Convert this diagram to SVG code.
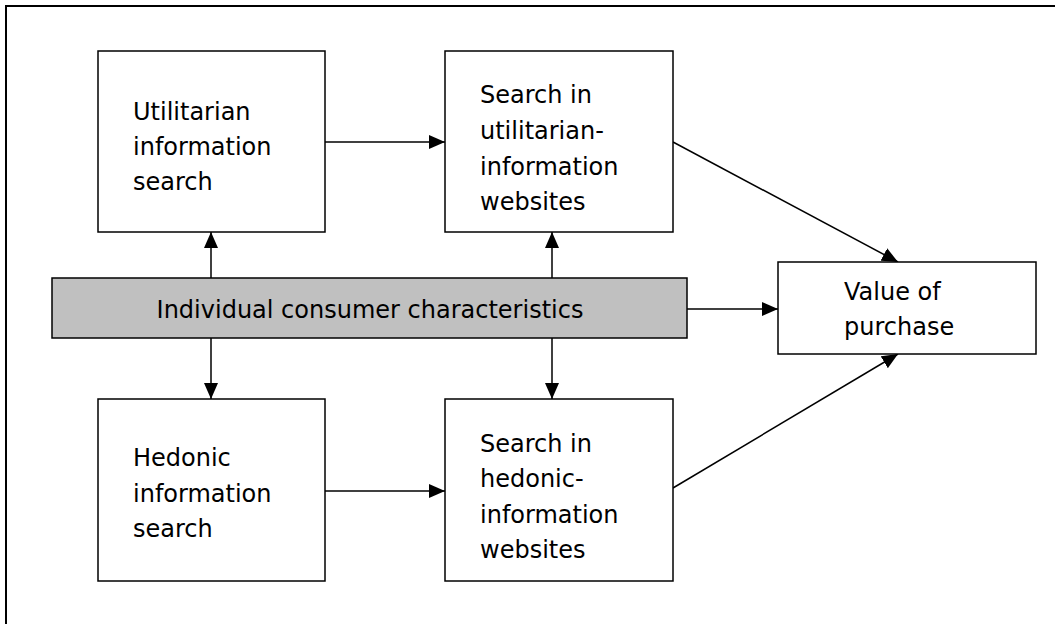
<svg xmlns="http://www.w3.org/2000/svg" width="1055" height="624" viewBox="0 0 1055 624">
<style>
.box{fill:#fff;stroke:#000;stroke-width:1.5}
.grey{fill:#c0c0c0;stroke:#000;stroke-width:1.5}
.t{font-family:"DejaVu Sans",sans-serif;font-size:24px;fill:#000}
</style>
<defs>
<marker id="ahb" viewBox="0 0 16 14" refX="16" refY="7" markerWidth="16" markerHeight="14" markerUnits="userSpaceOnUse" orient="auto">
<path d="M0,0 L16,7 L0,14 z" fill="#000"/>
</marker>
</defs>
<rect x="6" y="6" width="1070" height="640" fill="#fff" stroke="#000" stroke-width="2"/>
<g id="connectors" stroke="#000" stroke-width="1.5" fill="none">
<line x1="325" y1="142" x2="445" y2="142" marker-end="url(#ahb)"/>
<line x1="325" y1="491" x2="445" y2="491" marker-end="url(#ahb)"/>
<line x1="211" y1="278" x2="211" y2="232" marker-end="url(#ahb)"/>
<line x1="552" y1="278" x2="552" y2="232" marker-end="url(#ahb)"/>
<line x1="211" y1="338" x2="211" y2="399" marker-end="url(#ahb)"/>
<line x1="552" y1="338" x2="552" y2="399" marker-end="url(#ahb)"/>
<line x1="687" y1="309" x2="778" y2="309" marker-end="url(#ahb)"/>
<line x1="673" y1="142" x2="898" y2="262" marker-end="url(#ahb)"/>
<line x1="673" y1="488" x2="898" y2="354" marker-end="url(#ahb)"/>
</g>
<g id="util-search">
<rect class="box" x="98" y="51" width="227" height="181"/>
<text class="t" x="133" y="120">Utilitarian</text>
<text class="t" x="133" y="155">information</text>
<text class="t" x="133" y="190">search</text>
</g>
<g id="util-web">
<rect class="box" x="445" y="51" width="228" height="181"/>
<text class="t" x="480" y="103">Search in</text>
<text class="t" x="480" y="139">utilitarian-</text>
<text class="t" x="480" y="175">information</text>
<text class="t" x="480" y="210">websites</text>
</g>
<g id="consumer">
<rect class="grey" x="52" y="278" width="635" height="60"/>
<text class="t" x="370" y="318" text-anchor="middle">Individual consumer characteristics</text>
</g>
<g id="value">
<rect class="box" x="778" y="262" width="258" height="92"/>
<text class="t" x="844" y="300">Value of</text>
<text class="t" x="844" y="335">purchase</text>
</g>
<g id="hed-search">
<rect class="box" x="98" y="399" width="227" height="182"/>
<text class="t" x="133" y="466">Hedonic</text>
<text class="t" x="133" y="502">information</text>
<text class="t" x="133" y="537">search</text>
</g>
<g id="hed-web">
<rect class="box" x="445" y="399" width="228" height="182"/>
<text class="t" x="480" y="452">Search in</text>
<text class="t" x="480" y="487">hedonic-</text>
<text class="t" x="480" y="523">information</text>
<text class="t" x="480" y="558">websites</text>
</g>
</svg>
